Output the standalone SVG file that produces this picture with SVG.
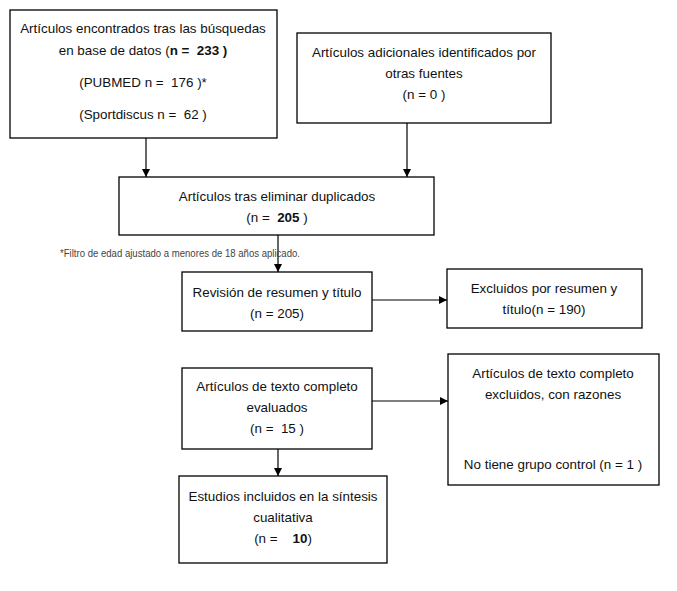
<svg xmlns="http://www.w3.org/2000/svg" width="677" height="591" viewBox="0 0 677 591">
<defs>
<marker id="ah" viewBox="0 0 10 10" refX="10" refY="5" markerWidth="8" markerHeight="8" markerUnits="userSpaceOnUse" orient="auto">
<path d="M0,0 L10,5 L0,10 Z" fill="#000"/>
</marker>
<style>
.box{fill:#fff;stroke:#000;stroke-width:1.3}
.t{font-family:"Liberation Sans",Arial,sans-serif;font-size:13.4px;fill:#111;text-anchor:middle;white-space:pre}
.b{font-weight:bold}
.c{stroke:#000;stroke-width:1.2;fill:none;marker-end:url(#ah)}
.fn{font-family:"Liberation Sans Narrow","Liberation Sans",Arial,sans-serif;font-size:10px;fill:#444}
</style>
</defs>
<rect width="677" height="591" fill="#fff"/>
<g id="connectors">
<line class="c" x1="146" y1="138" x2="146" y2="177"/>
<line class="c" x1="407" y1="123" x2="407" y2="177"/>
<line class="c" x1="278" y1="235" x2="278" y2="272"/>
<line class="c" x1="372" y1="300" x2="447" y2="300"/>
<line class="c" x1="372" y1="401" x2="448" y2="401"/>
<line class="c" x1="278" y1="449" x2="278" y2="476"/>
</g>
<g id="n1">
<rect class="box" x="10" y="10" width="267" height="128"/>
<text class="t" x="143" y="33">Artículos encontrados tras las búsquedas</text>
<text class="t" x="143" y="55">en base de datos (<tspan class="b">n =  233 )</tspan></text>
<text class="t" x="143" y="87">(PUBMED n =  176 )*</text>
<text class="t" x="143" y="119">(Sportdiscus n =  62 )</text>
</g>
<g id="n2">
<rect class="box" x="297" y="33" width="254" height="90"/>
<text class="t" x="424" y="57">Artículos adicionales identificados por</text>
<text class="t" x="424" y="78">otras fuentes</text>
<text class="t" x="424" y="99">(n = 0 )</text>
</g>
<g id="n3">
<rect class="box" x="119" y="177" width="315" height="58"/>
<text class="t" x="277" y="201">Artículos tras eliminar duplicados</text>
<text class="t" x="277" y="222">(n =  <tspan class="b">205</tspan> )</text>
</g>
<text class="fn" x="60" y="257" textLength="240" lengthAdjust="spacingAndGlyphs">*Filtro de edad ajustado a menores de 18 años aplicado.</text>
<g id="n4">
<rect class="box" x="182" y="272" width="190" height="59"/>
<text class="t" x="277" y="297">Revisión de resumen y título</text>
<text class="t" x="277" y="318">(n = 205)</text>
</g>
<g id="n5">
<rect class="box" x="447" y="269" width="195" height="59"/>
<text class="t" x="544" y="293">Excluidos por resumen y</text>
<text class="t" x="544" y="314">título(n = 190)</text>
</g>
<g id="n6">
<rect class="box" x="182" y="368" width="190" height="81"/>
<text class="t" x="277" y="391">Artículos de texto completo</text>
<text class="t" x="277" y="412">evaluados</text>
<text class="t" x="277" y="433">(n =  15 )</text>
</g>
<g id="n7">
<rect class="box" x="448" y="354" width="211" height="131"/>
<text class="t" x="553" y="378">Artículos de texto completo</text>
<text class="t" x="553" y="399">excluidos, con razones</text>
<text class="t" x="553" y="469">No tiene grupo control (n = 1 )</text>
</g>
<g id="n8">
<rect class="box" x="179" y="476" width="208" height="87"/>
<text class="t" x="283" y="501">Estudios incluidos en la síntesis</text>
<text class="t" x="283" y="522">cualitativa</text>
<text class="t" x="283" y="543">(n =    <tspan class="b">10</tspan>)</text>
</g>
</svg>
